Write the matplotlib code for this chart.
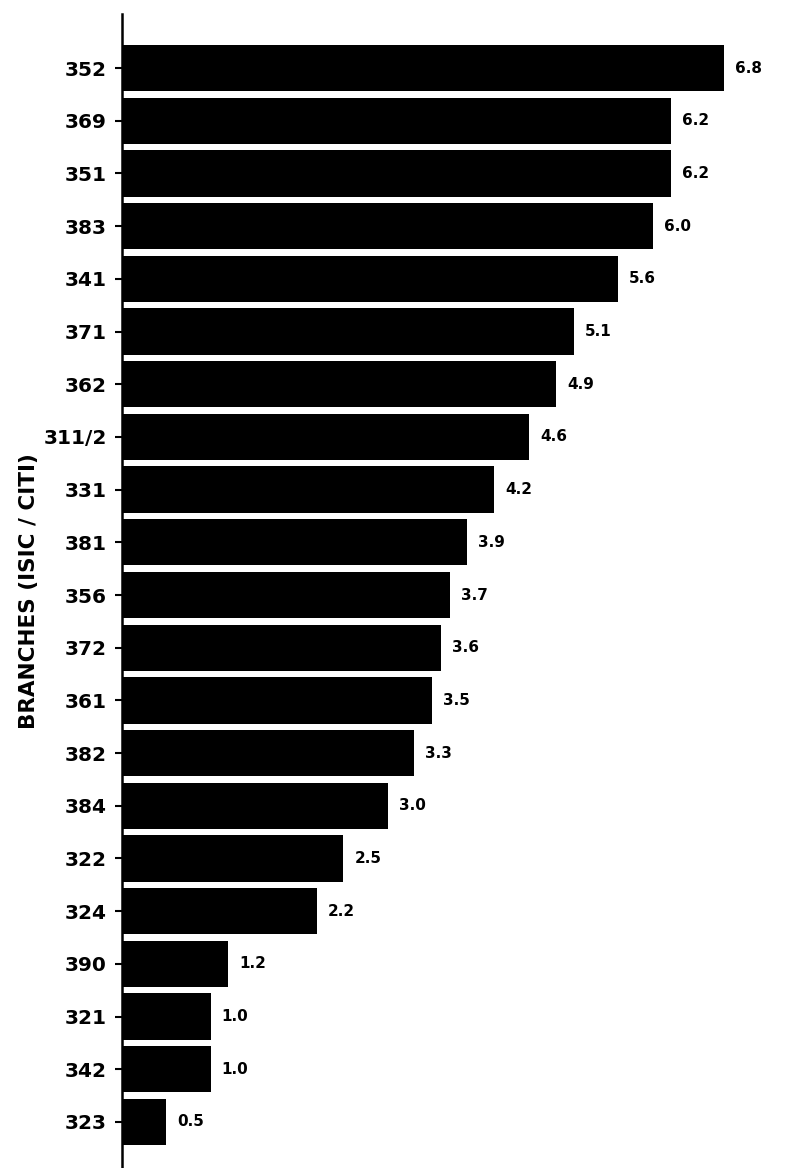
import matplotlib
matplotlib.use("Agg")
import matplotlib.pyplot as plt

# Branch codes (ISIC / CITI) and values, top to bottom
branches = ["352", "369", "351", "383", "341", "371", "362", "311/2", "331", "381",
            "356", "372", "361", "382", "384", "322", "324", "390", "321", "342", "323"]
values = [6.8, 6.2, 6.2, 6.0, 5.6, 5.1, 4.9, 4.6, 4.2, 3.9,
          3.7, 3.6, 3.5, 3.3, 3.0, 2.5, 2.2, 1.2, 1.0, 1.0, 0.5]

fig = plt.figure(figsize=(7.87, 11.68), dpi=100)
ax = fig.add_axes([122 / 787, 0, 664 / 787, 1154 / 1168])

pos = list(range(len(branches)))
ax.barh(pos, values, height=0.88, color="black", align="center")

# value labels to the right of each bar
for p, v in zip(pos, values):
    ax.annotate(f"{v:.1f}", xy=(v, p), xytext=(8, 0), textcoords="offset points",
                va="center", ha="left", fontsize=11, fontweight="heavy")

ax.set_xlim(0, 7.5)
ax.set_ylim(len(branches) - 1 + 0.873, -1.025)

ax.set_yticks(pos)
ax.set_yticklabels(branches, fontsize=14.5, fontweight="heavy")
ax.tick_params(axis="y", direction="out", length=5, width=1.5, pad=6)
ax.set_xticks([])

for s in ["top", "right", "bottom"]:
    ax.spines[s].set_visible(False)
ax.spines["left"].set_linewidth(1.8)

ax.set_ylabel("BRANCHES (ISIC / CITI)", fontsize=15.5, fontweight="heavy", labelpad=3)

fig.savefig("out.png", dpi=100)
